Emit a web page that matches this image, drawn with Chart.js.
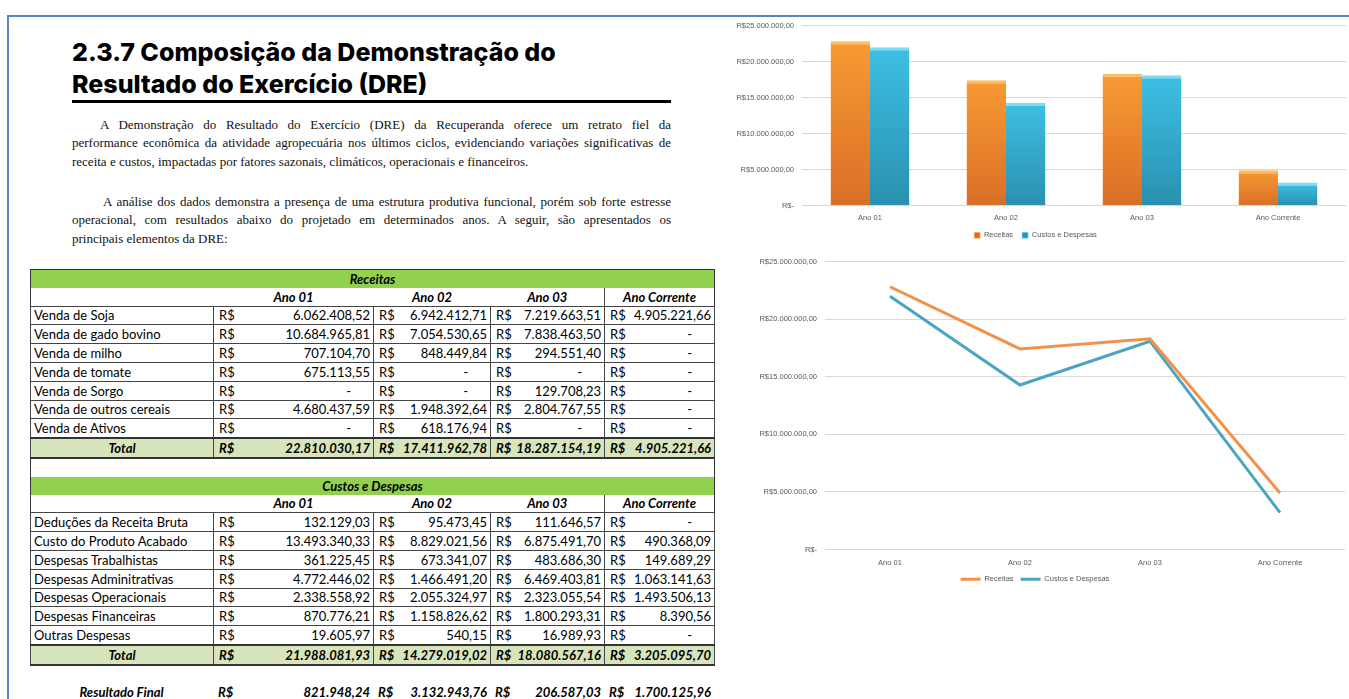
<!DOCTYPE html>
<html lang="pt-BR">
<head>
<meta charset="utf-8">
<title>DRE</title>
<script src="https://cdn.jsdelivr.net/npm/chart.js@4.4.1/dist/chart.umd.min.js"></script>
<style>
  html, body { margin: 0; padding: 0; background: #fff; }
  body { width: 1349px; height: 699px; overflow: hidden; position: relative; }
  #frame { position: absolute; left: 7px; top: 15px; width: 1350px; height: 700px;
    border-top: 2px solid #5A86C8; border-left: 2px solid #5A86C8; }
  h1 { position: absolute; left: 72px; top: 36px; width: 599px; margin: 0;
    font-family: Inter, sans-serif; font-weight: 800; font-size: 25px; line-height: 32px;
    letter-spacing: 0; color: #000; border-bottom: 3px solid #000; }
  .para { position: absolute; left: 72px; width: 599px; font-family: "Liberation Serif", serif;
    font-size: 13px; color: #111; }
  .para div { height: 18.6px; line-height: 18.6px; white-space: nowrap; }
  .para .j { text-align: justify; text-align-last: justify; white-space: normal; }
  table { border-collapse: collapse; table-layout: fixed; font-family: Lato, sans-serif; font-size: 13px; }
  #dre { position: absolute; left: 30px; top: 269px; width: 684px; border: 1.5px solid #333; }
  #dre td { padding: 0; height: 17.8px; line-height: 16px; overflow: hidden; white-space: nowrap; }
  #dre tr.row td { border: 1px solid #444; }
  #dre tr.row td:first-child { padding-left: 3px; }
  .hd td { background: #92D050; text-align: center; font-weight: 700; font-style: italic; }
  .yr td { text-align: center; font-weight: 700; font-style: italic; }
  .tot td { background: #D8E4BC; font-weight: 700; font-style: italic; border: 1px solid #444;
    border-top: 2px solid #333 !important; border-bottom: 2px solid #333 !important; }
  .tot td:first-child { text-align: center; }
  .m div { display: flex; justify-content: space-between; padding: 0 3px 0 5px; }
  .m .dash { margin-right: 19px; }
  #final { position: absolute; left: 30px; top: 683px; width: 684px; font-weight: 700; font-style: italic; }
  #final td { padding: 0; height: 18.8px; white-space: nowrap; }
  #final td:first-child { text-align: center; }
  canvas { position: absolute; }
</style>
</head>
<body>
<div id="frame"></div>
<h1>2.3.7 Composição da Demonstração do<br>Resultado do Exercício (DRE)</h1>

<div class="para" style="top:115.7px">
  <div class="j" style="padding-left:28px">A Demonstração do Resultado do Exercício (DRE) da Recuperanda oferece um retrato fiel da</div>
  <div class="j">performance econômica da atividade agropecuária nos últimos ciclos, evidenciando variações significativas de</div>
  <div>receita e custos, impactadas por fatores sazonais, climáticos, operacionais e financeiros.</div>
</div>
<div class="para" style="top:192.7px">
  <div class="j" style="padding-left:31px">A análise dos dados demonstra a presença de uma estrutura produtiva funcional, porém sob forte estresse</div>
  <div class="j">operacional, com resultados abaixo do projetado em determinados anos. A seguir, são apresentados os</div>
  <div>principais elementos da DRE:</div>
</div>

<table id="dre">
  <colgroup><col style="width:183px"><col style="width:160px"><col style="width:117px"><col style="width:114px"><col style="width:110px"></colgroup>
  <tbody id="dreBody"></tbody>
</table>
<table id="final">
  <colgroup><col style="width:183px"><col style="width:160px"><col style="width:117px"><col style="width:114px"><col style="width:110px"></colgroup>
  <tbody id="finalBody"></tbody>
</table>

<canvas id="barChart" width="624" height="236" style="left:725px;top:13px"></canvas>
<canvas id="lineChart" width="624" height="344" style="left:725px;top:249px"></canvas>

<script>
const anos = ['Ano 01', 'Ano 02', 'Ano 03', 'Ano Corrente'];

// linhas da tabela (valores como aparecem na planilha)
const receitasRows = [
  ['Venda de Soja', '6.062.408,52', '6.942.412,71', '7.219.663,51', '4.905.221,66'],
  ['Venda de gado bovino', '10.684.965,81', '7.054.530,65', '7.838.463,50', '-'],
  ['Venda de milho', '707.104,70', '848.449,84', '294.551,40', '-'],
  ['Venda de tomate', '675.113,55', '-', '-', '-'],
  ['Venda de Sorgo', '-', '-', '129.708,23', '-'],
  ['Venda de outros cereais', '4.680.437,59', '1.948.392,64', '2.804.767,55', '-'],
  ['Venda de Ativos', '-', '618.176,94', '-', '-']
];
const custosRows = [
  ['Deduções da Receita Bruta', '132.129,03', '95.473,45', '111.646,57', '-'],
  ['Custo do Produto Acabado', '13.493.340,33', '8.829.021,56', '6.875.491,70', '490.368,09'],
  ['Despesas Trabalhistas', '361.225,45', '673.341,07', '483.686,30', '149.689,29'],
  ['Despesas Adminitrativas', '4.772.446,02', '1.466.491,20', '6.469.403,81', '1.063.141,63'],
  ['Despesas Operacionais', '2.338.558,92', '2.055.324,97', '2.323.055,54', '1.493.506,13'],
  ['Despesas Financeiras', '870.776,21', '1.158.826,62', '1.800.293,31', '8.390,56'],
  ['Outras Despesas', '19.605,97', '540,15', '16.989,93', '-']
];
const receitasTotalTxt = ['22.810.030,17', '17.411.962,78', '18.287.154,19', '4.905.221,66'];
const custosTotalTxt = ['21.988.081,93', '14.279.019,02', '18.080.567,16', '3.205.095,70'];
const resultadoTxt = ['821.948,24', '3.132.943,76', '206.587,03', '1.700.125,96'];

// séries dos gráficos
const receitasTotal = [22810030.17, 17411962.78, 18287154.19, 4905221.66];
const custosTotal = [21988081.93, 14279019.02, 18080567.16, 3205095.70];
const yTicks = [0, 5000000, 10000000, 15000000, 20000000, 25000000];

function money(v) {
  const cls = v === '-' ? ' class="dash"' : '';
  return `<td class="m"><div><span>R$</span><span${cls}>${v}</span></div></td>`;
}

function block(title, rows, totals) {
  let h = `<tr class="hd"><td colspan="5">${title}</td></tr>`;
  h += `<tr class="yr"><td></td>${anos.map((a, i) => `<td${i === 2 ? ' style="border-right:1px solid #444"' : ''}>${a}</td>`).join('')}</tr>`;
  rows.forEach(r => {
    h += `<tr class="row"><td>${r[0]}</td>${r.slice(1).map(money).join('')}</tr>`;
  });
  h += `<tr class="tot"><td>Total</td>${totals.map(money).join('')}</tr>`;
  return h;
}

document.getElementById('dreBody').innerHTML =
  block('Receitas', receitasRows, receitasTotalTxt) +
  '<tr><td colspan="5"></td></tr>' +
  block('Custos e Despesas', custosRows, custosTotalTxt);
document.getElementById('finalBody').innerHTML =
  `<tr><td>Resultado Final</td>${resultadoTxt.map(money).join('')}</tr>`;

// gráficos
const axisFont = { family: '"Liberation Sans", sans-serif', size: 7.5 };
const grey = '#595959';
const gridGrey = '#D9D9D9';

function brl(v) {
  if (v === 0) return 'R$-';
  return 'R$' + v.toLocaleString('de-DE', { minimumFractionDigits: 2, maximumFractionDigits: 2 });
}

function barFill(top, bottom) {
  return ctx => {
    const chart = ctx.chart;
    if (!chart.chartArea || ctx.raw == null) return top;
    const y = chart.scales.y;
    const g = chart.ctx.createLinearGradient(0, y.getPixelForValue(ctx.raw), 0, y.getPixelForValue(0));
    g.addColorStop(0, top);
    g.addColorStop(1, bottom);
    return g;
  };
}

const yScale = (w) => ({
  min: 0, max: 25000000,
  afterBuildTicks: s => { s.ticks = yTicks.map(v => ({ value: v })); },
  ticks: { callback: brl, color: grey, font: axisFont, padding: 8 },
  grid: { color: gridGrey, drawTicks: false },
  border: { display: false },
  afterFit: s => { s.width = w; }
});

new Chart(document.getElementById('barChart'), {
  type: 'bar',
  data: {
    labels: anos,
    datasets: [
      { label: 'Receitas', data: receitasTotal, backgroundColor: barFill('#F99A33', '#D96F27'),
        borderColor: '#FDBE62', borderWidth: { top: 3, left: 0, right: 0, bottom: 0 } },
      { label: 'Custos e Despesas', data: custosTotal, backgroundColor: barFill('#3DC0E4', '#2A90AF'),
        borderColor: '#7FDDF3', borderWidth: { top: 3, left: 0, right: 0, bottom: 0 } }
    ]
  },
  options: {
    responsive: false, animation: false,
    datasets: { bar: { categoryPercentage: 0.58, barPercentage: 1 } },
    layout: { padding: { top: 0, right: 3 } },
    scales: {
      x: { grid: { display: false }, border: { display: false },
        ticks: { color: grey, font: axisFont, padding: 0 } },
      y: yScale(77)
    },
    plugins: {
      legend: { position: 'bottom',
        labels: { color: grey, font: axisFont, boxWidth: 6, boxHeight: 6, padding: 9 } },
      tooltip: { enabled: false }
    }
  }
});

new Chart(document.getElementById('lineChart'), {
  type: 'line',
  data: {
    labels: anos,
    datasets: [
      { label: 'Receitas', data: receitasTotal, borderColor: '#F2914A', backgroundColor: '#F2914A',
        borderWidth: 3, pointRadius: 0, tension: 0 },
      { label: 'Custos e Despesas', data: custosTotal, borderColor: '#4AA5C2', backgroundColor: '#4AA5C2',
        borderWidth: 3, pointRadius: 0, tension: 0 }
    ]
  },
  options: {
    responsive: false, animation: false,
    layout: { padding: { top: 0, right: 4 } },
    scales: {
      x: { offset: true, grid: { display: false }, border: { display: false },
        ticks: { color: grey, font: axisFont, padding: 1 } },
      y: yScale(100)
    },
    plugins: {
      legend: { position: 'bottom',
        labels: { color: grey, font: axisFont, usePointStyle: true, pointStyle: 'line',
          pointStyleWidth: 20, padding: 7 } },
      tooltip: { enabled: false }
    }
  }
});
</script>
</body>
</html>
